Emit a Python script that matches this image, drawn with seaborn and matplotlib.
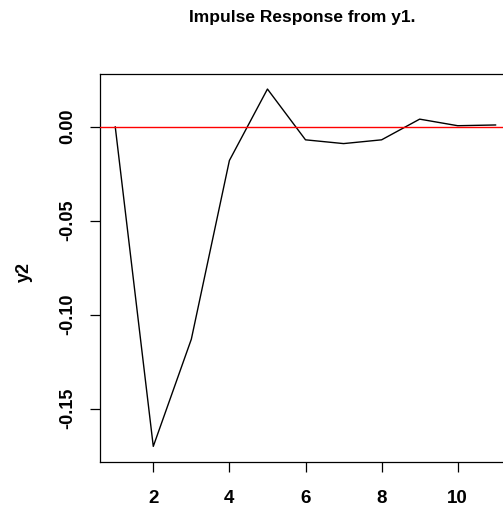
import matplotlib
matplotlib.use("Agg")
import matplotlib.pyplot as plt
import seaborn as sns
import pandas as pd
import numpy as np

# Data
steps = [1, 2, 3, 4, 5, 6, 7, 8, 9, 10, 11]
y2_response = [0.0, -0.170, -0.113, -0.018, 0.020, -0.007, -0.009, -0.007, 0.004, 0.0005, 0.0009]
x_ticks = [2, 4, 6, 8, 10]
y_ticks = [0.00, -0.05, -0.10, -0.15]
y_tick_labels = ["0.00", "-0.05", "-0.10", "-0.15"]
title_text = "Impulse Response from y1."
y_label = "y2"

sns.set_theme(style="white")
plt.rcParams["font.family"] = ["Liberation Sans", "DejaVu Sans"]
plt.rcParams["text.color"] = "black"
plt.rcParams["axes.labelcolor"] = "black"
plt.rcParams["xtick.color"] = "black"
plt.rcParams["ytick.color"] = "black"

W, H = 503, 513
fig = plt.figure(figsize=(W / 100, H / 100), dpi=100)
ax = fig.add_axes([100 / W, (H - 462) / H, 411 / W, (462 - 74) / H])

df = pd.DataFrame({"step": steps, "value": y2_response})
sns.lineplot(data=df, x="step", y="value", ax=ax, color="black", linewidth=1.0)
ax.axhline(0, color="red", linewidth=1.0, zorder=3)

ax.set_xlim(0.6, 11.4)
ax.set_ylim(-0.1783, 0.028)
ax.set_xticks(x_ticks)
ax.set_xticklabels([str(t) for t in x_ticks], fontsize=13.5, fontweight="bold")
ax.set_yticks(y_ticks)
ax.set_yticklabels(y_tick_labels, fontsize=13, fontweight="bold", rotation=90, va="center")
ax.tick_params(axis="both", direction="out", length=7.2, width=0.9, color="black",
               labelcolor="black", bottom=True, left=True)
ax.tick_params(axis="x", pad=13)
ax.tick_params(axis="y", pad=10)
ax.set_xlabel("")
ax.set_ylabel(y_label, fontsize=13, fontweight="bold", color="black")
ax.yaxis.set_label_coords(-(100 - 33) / 411, 0.49)

for s in ax.spines.values():
    s.set_color("black")
    s.set_linewidth(0.9)

fig.text(302 / W, 1 - 17.5 / H, title_text, ha="center", va="center",
         fontsize=12.5, fontweight="bold", color="black")

fig.savefig("out.png", dpi=100)
